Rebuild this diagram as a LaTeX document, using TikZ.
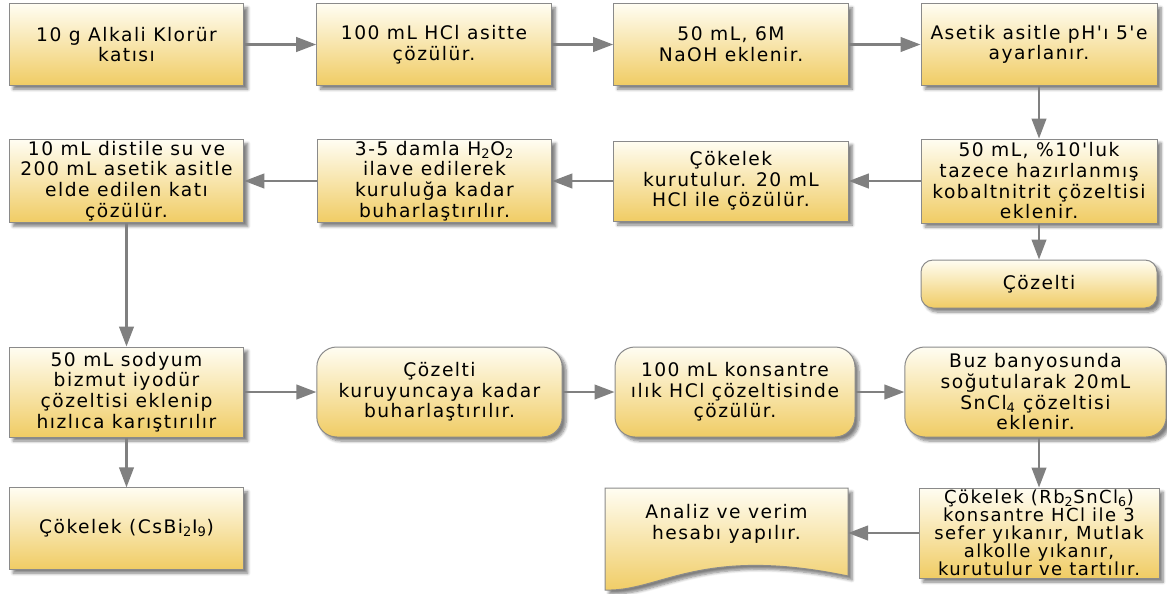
\documentclass[tikz,border=0pt]{standalone}
\usepackage{fontspec}
\setmainfont{DejaVu Sans}[LetterSpace=8,Ligatures=TeXOff]
\usetikzlibrary{arrows.meta,shadows.blur}
\definecolor{boxtop}{RGB}{255,253,242}
\definecolor{boxbot}{RGB}{240,204,100}
\definecolor{boxline}{RGB}{138,138,138}
\definecolor{arrowgray}{RGB}{128,128,128}
\tikzset{
  boxlook/.style={draw=boxline, line width=0.75pt, top color=boxtop, bottom color=boxbot,
    blur shadow={shadow xshift=3pt, shadow yshift=-3pt, shadow blur steps=6, shadow opacity=50}},
  stepbox/.style={boxlook, rectangle, align=center, inner sep=1pt, minimum width=176pt,
    minimum height=61pt, font=\fontsize{14}{15.5}\selectfont},
  roundbox/.style={stepbox, rounded corners=15pt},
  flow/.style={draw=arrowgray, line width=1.6pt, -{Triangle[length=15pt,width=11pt]}}
}
\begin{document}
\begin{tikzpicture}[x=0.75pt,y=-0.75pt]
\useasboundingbox (0,0) rectangle (1167,593);
\node[stepbox] (alkali) at (126.5,44.5) {10 g Alkali Klorür\\katısı};
\node[stepbox] (hcl) at (434,44.5) {100 mL HCl asitte\\çözülür.};
\node[stepbox] (naoh) at (731,44.5) {50 mL, 6M\\NaOH eklenir.};
\node[stepbox, minimum width=177pt] (ph) at (1039,44.5) {Asetik asitle pH'ı 5'e\\ayarlanır.};
\node[stepbox, minimum height=62pt] (distile) at (126.5,181) {10 mL distile su ve\\200 mL asetik asitle\\elde edilen katı\\çözülür.};
\node[stepbox, minimum height=62pt] (peroksit) at (434.5,181) {3-5 damla H\textsubscript{2}O\textsubscript{2}\\ilave edilerek\\kuruluğa kadar\\buharlaştırılır.};
\node[stepbox, minimum height=60pt] (kurutma) at (731,181) {Çökelek\\kurutulur. 20 mL\\HCl ile çözülür.};
\node[stepbox, minimum width=177pt, minimum height=63pt] (kobalt) at (1039,181) {50 mL, \%10'luk\\tazece hazırlanmış\\kobaltnitrit çözeltisi\\eklenir.};
\node[roundbox, rounded corners=9pt, minimum width=177pt, minimum height=36pt] (cozelti) at (1039,284) {Çözelti};
\node[stepbox, minimum height=67.5pt] (bizmut) at (126.5,392) {50 mL sodyum\\bizmut iyodür\\çözeltisi eklenip\\hızlıca karıştırılır};
\node[roundbox, minimum width=184pt, minimum height=67.5pt] (kuruma) at (439.5,392) {Çözelti\\kuruyuncaya kadar\\buharlaştırılır.};
\node[roundbox, minimum width=180pt, minimum height=67.5pt] (konsantre) at (735,392) {100 mL konsantre\\ılık HCl çözeltisinde\\çözülür.};
\node[roundbox, minimum width=196pt, minimum height=67.5pt] (buz) at (1035.5,392) {Buz banyosunda\\soğutularak 20mL\\SnCl\textsubscript{4} çözeltisi\\eklenir.};
\node[stepbox] (csbi) at (126.5,528.5) {Çökelek (CsBi\textsubscript{2}I\textsubscript{9})};
\path[boxlook] (605,488) -- (848,488) -- (848,576) .. controls (700,545) and (660,592) .. (605,590) -- cycle;
\node[align=center, inner sep=1pt, minimum width=182pt, minimum height=57pt, font=\fontsize{14}{15.5}\selectfont] (analiz) at (726.5,524) {Analiz ve verim\\hesabı yapılır.};
\node[stepbox, minimum width=180pt, minimum height=67.5pt, font=\fontsize{13.5}{13.5}\selectfont] (tartim) at (1039,533) {Çökelek (Rb\textsubscript{2}SnCl\textsubscript{6})\\konsantre HCl ile 3\\sefer yıkanır, Mutlak\\alkolle yıkanır,\\kurutulur ve tartılır.};
\draw[flow] (alkali) -- (hcl);
\draw[flow] (hcl) -- (naoh);
\draw[flow] (naoh) -- (ph);
\draw[flow] (ph) -- (kobalt);
\draw[flow] (kobalt) -- (kurutma);
\draw[flow] (kurutma) -- (peroksit);
\draw[flow] (peroksit) -- (distile);
\draw[flow] (kobalt) -- (cozelti);
\draw[flow] (distile) -- (bizmut);
\draw[flow] (bizmut) -- (kuruma);
\draw[flow] (kuruma) -- (konsantre);
\draw[flow] (konsantre) -- (buz);
\draw[flow] (buz.south -| tartim.north) -- (tartim.north);
\draw[flow] (tartim.west) -- (tartim.west -| analiz.east);
\draw[flow] (bizmut) -- (csbi);
\end{tikzpicture}
\end{document}
